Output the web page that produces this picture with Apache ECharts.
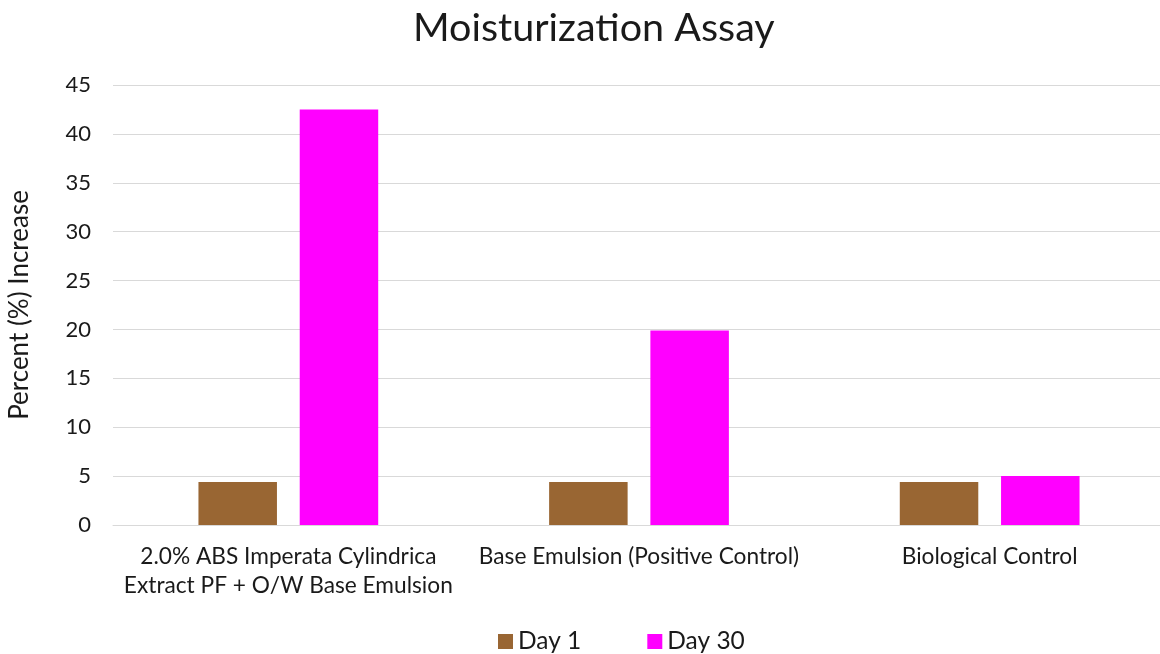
<!DOCTYPE html>
<html>
<head>
<meta charset="utf-8">
<title>Moisturization Assay</title>
<script src="https://cdn.jsdelivr.net/npm/echarts@6/dist/echarts.min.js"></script>
<style>
    html, body { margin: 0; padding: 0; background: #ffffff; }
    #chart { width: 1160px; height: 654px; }
</style>
</head>
<body>
<div id="chart"></div>
<script>
// data
const categories = [
    "2.0% ABS Imperata Cylindrica\nExtract PF + O/W Base Emulsion",
    "Base Emulsion (Positive Control)",
    "Biological Control"
];
const day1 = [4.4, 4.4, 4.4];
const day30 = [42.5, 19.9, 5.0];
const seriesNames = ["Day 1", "Day 30"];

const FONT = "Lato, 'Open Sans', sans-serif";
const TEXT = "#1a1a1a";

const chart = echarts.init(document.getElementById("chart"), null, { renderer: "canvas" });

const option = {
    animation: false,
    backgroundColor: "#ffffff",
    textStyle: { fontFamily: FONT, color: TEXT },
    title: {
        text: "Moisturization Assay",
        left: 408,
        top: 3,
        textStyle: { fontFamily: FONT, fontSize: 39.5, fontWeight: "normal", color: TEXT }
    },
    legend: {
        data: seriesNames,
        left: 493,
        top: 624,
        icon: "rect",
        itemWidth: 15,
        itemHeight: 15,
        itemGap: 66,
        textStyle: { fontFamily: FONT, fontSize: 24.5, color: TEXT }
    },
    grid: {
        left: 113,
        width: 1052,
        top: 85,
        bottom: 129,
        containLabel: false,
        outerBoundsMode: "none"
    },
    xAxis: {
        type: "category",
        data: categories,
        axisLine: { lineStyle: { color: "#d9d9d9", width: 1 } },
        axisTick: { show: false },
        axisLabel: {
            interval: 0,
            margin: 17,
            fontFamily: FONT,
            fontSize: 22.7,
            lineHeight: 29,
            color: TEXT
        }
    },
    yAxis: {
        type: "value",
        min: 0,
        max: 45,
        interval: 5,
        name: "Percent (%) Increase",
        nameLocation: "middle",
        nameGap: 80,
        nameTextStyle: { fontFamily: FONT, fontSize: 26, color: TEXT },
        axisLine: { show: false },
        axisTick: { show: false },
        axisLabel: { margin: 22, fontFamily: FONT, fontSize: 22, color: TEXT },
        splitLine: { lineStyle: { color: "#d9d9d9", width: 1 } }
    },
    series: [
        {
            name: seriesNames[0],
            type: "bar",
            data: day1,
            barWidth: 78.5,
            barGap: "29%",
            itemStyle: { color: "#996633" }
        },
        {
            name: seriesNames[1],
            type: "bar",
            data: day30,
            barWidth: 78.5,
            itemStyle: { color: "#ff00ff" }
        }
    ]
};

chart.setOption(option);
</script>
</body>
</html>
